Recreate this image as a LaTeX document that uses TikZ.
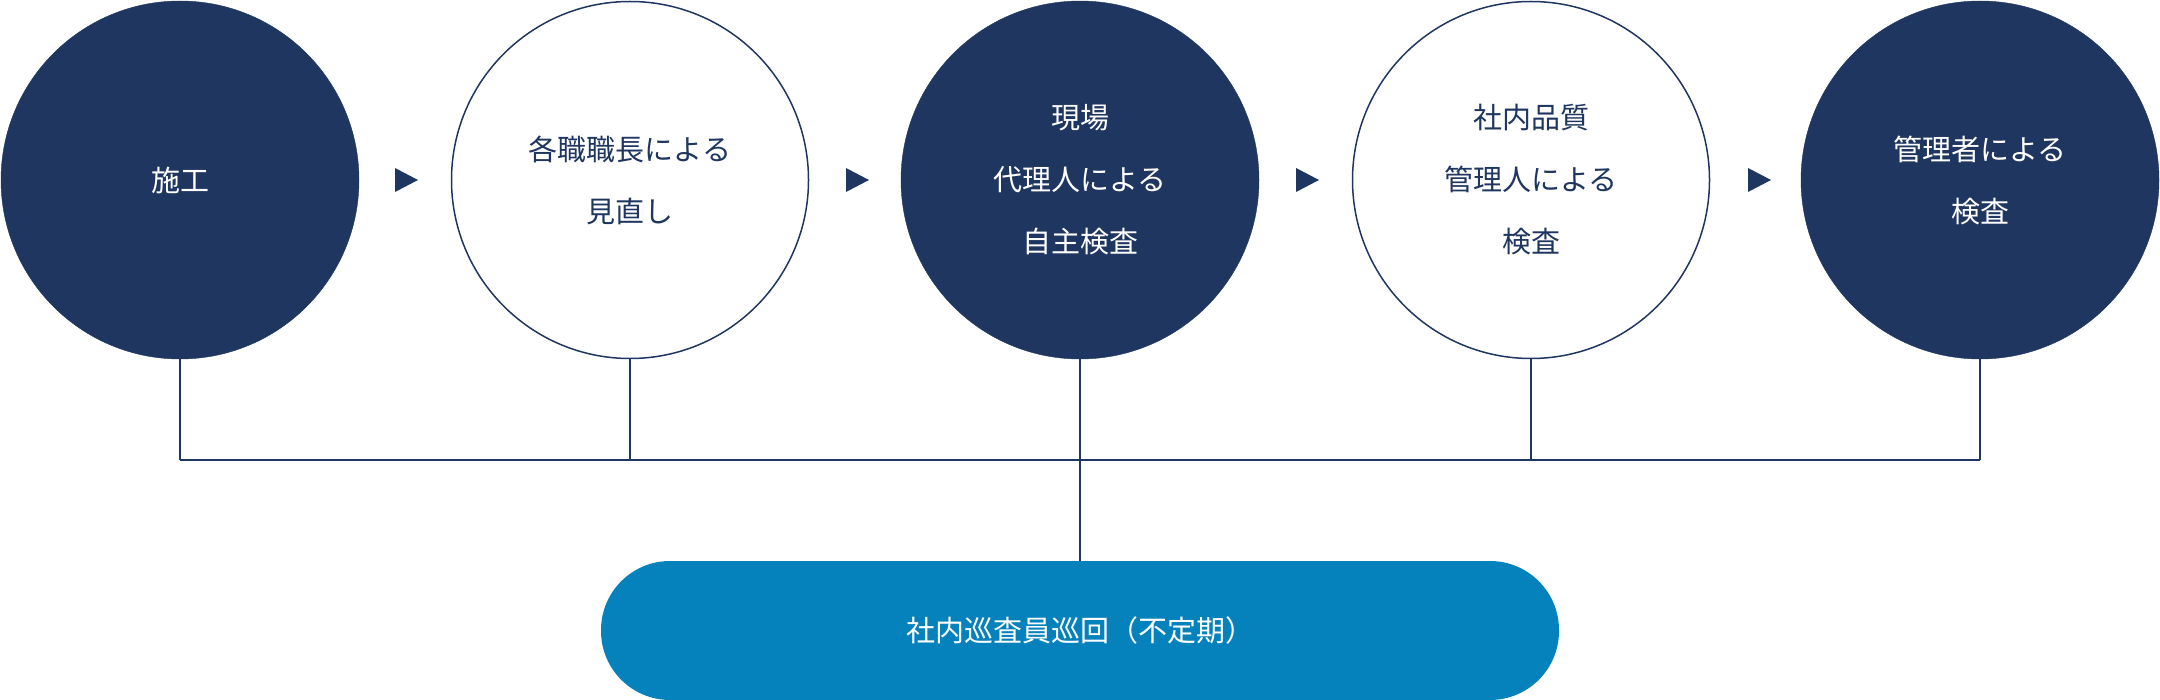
\documentclass[tikz,border=0pt]{standalone}
\usepackage{fontspec}
\newfontfamily\cjk{Noto Sans CJK JP}
\definecolor{navy}{HTML}{1F3660}
\definecolor{pillc}{HTML}{0582BB}
\begin{document}
\begin{tikzpicture}[x=1pt,y=-1pt,
  filled/.style={circle,fill=navy,draw=navy,minimum size=358pt,inner sep=0,text=white,align=center,font=\cjk\fontsize{29}{62}\selectfont},
  empty/.style={circle,fill=white,draw=navy,line width=1.5pt,minimum size=357pt,inner sep=0,text=navy,align=center,font=\cjk\fontsize{29}{62}\selectfont},
  tri/.style={fill=navy},
  ln/.style={draw=navy,line width=1.5pt}]
\useasboundingbox (0,0) rectangle (2160,700);
\node[filled] (c1) at (180,180) {施工};
\node[empty] (c2) at (630,180) {各職職長による\\見直し};
\node[filled] (c3) at (1080,180) {現場\\代理人による\\自主検査};
\node[empty] (c4) at (1531,180) {社内品質\\管理人による\\検査};
\node[filled] (c5) at (1980,180) {管理者による\\検査};
\node[rounded corners=69pt,fill=pillc,minimum width=958pt,minimum height=139pt,text=white,font=\cjk\fontsize{29}{36}\selectfont] (p) at (1080,630.5) {社内巡査員巡回（不定期）};
\foreach \x in {405,856,1306,1758}
  \fill[tri] (\x-10,168) -- (\x+13,180) -- (\x-10,192) -- cycle;
\coordinate (h1) at (180,460);
\coordinate (h5) at (1980,460);
\draw[ln] (h1) -- (h5);
\foreach \c/\x in {c1/180,c2/630,c3/1080,c4/1531,c5/1980}
  \draw[ln] (\c.south) -- (\x,460);
\draw[ln] (1080,460) -- (p.north);
\end{tikzpicture}
\end{document}
